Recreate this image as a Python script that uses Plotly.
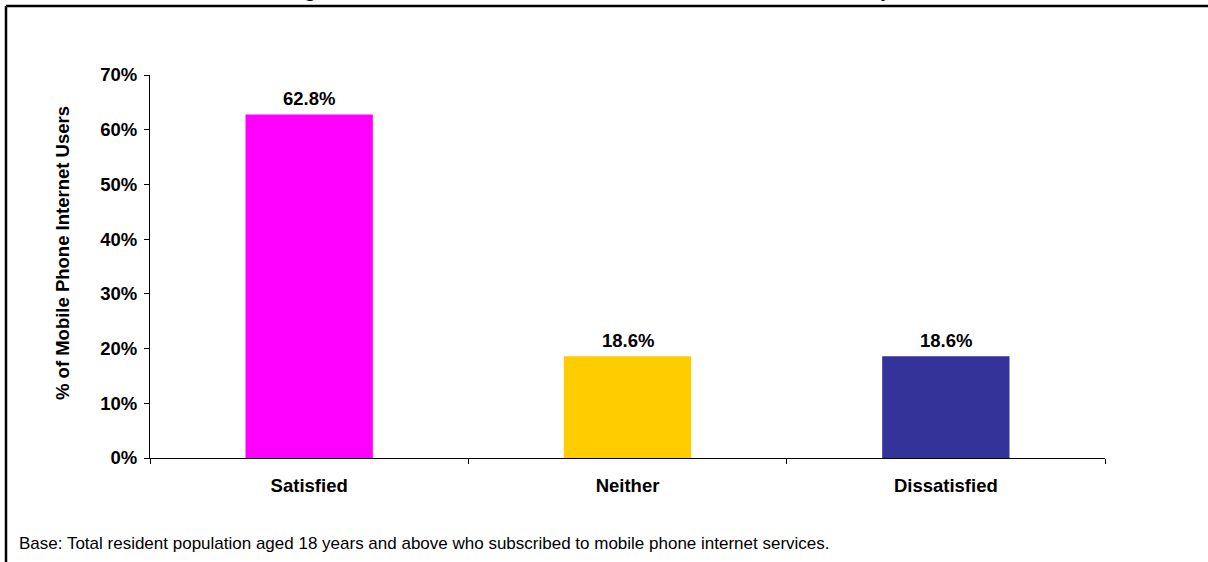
import plotly.graph_objects as go

# Survey results
categories = ["Satisfied", "Neither", "Dissatisfied"]
shares = [62.8, 18.6, 18.6]
bar_colors = ["#FF00FF", "#FFCC00", "#333399"]
y_ticks = [0, 10, 20, 30, 40, 50, 60, 70]
y_tick_labels = [f"{v}%" for v in y_ticks]

title_text = "Figure 10: Overall Satisfaction with Mobile Phone Internet Speed"
y_title = "% of Mobile Phone Internet Users"
footnote = "Base: Total resident population aged 18 years and above who subscribed to mobile phone internet services."

W, H = 1208, 562
ML, MR, MT, MB = 150, 103, 75, 104
PW, PH = W - ML - MR, H - MT - MB
FONT = "Liberation Sans, Arial, sans-serif"
BOLD_SIZE = 18.5


def px_x(px):
    return (px - ML) / PW


def px_y(py):
    return (H - MB - py) / PH


fig = go.Figure()
fig.add_trace(go.Bar(
    x=categories,
    y=shares,
    width=0.4,
    marker=dict(color=bar_colors, line=dict(width=0)),
    hoverinfo="skip",
))

# value labels above each bar
for cat, val in zip(categories, shares):
    fig.add_annotation(
        x=cat, y=val, xref="x", yref="y",
        text=f"{val:.1f}%", showarrow=False,
        yanchor="bottom", yshift=3,
        font=dict(family=FONT, size=BOLD_SIZE, color="#000000", weight="bold"),
    )

# y-axis title
fig.add_annotation(
    x=px_x(62), y=px_y(253), xref="paper", yref="paper",
    text=y_title, textangle=-90, showarrow=False,
    xanchor="center", yanchor="middle",
    font=dict(family=FONT, size=18.5, color="#000000", weight="bold"),
)

# chart heading (sits at the very top edge, mostly above the page)
fig.add_annotation(
    x=px_x(607), y=px_y(-10), xref="paper", yref="paper",
    text=title_text, showarrow=False,
    xanchor="center", yanchor="middle",
    font=dict(family=FONT, size=21, color="#000000", weight="bold"),
)

# footnote
fig.add_annotation(
    x=px_x(17), y=px_y(543), xref="paper", yref="paper",
    text=footnote, showarrow=False,
    xanchor="left", yanchor="middle",
    font=dict(family=FONT, size=17, color="#000000"),
)

# outer frame (top and left edges)
frame = dict(color="#000000", width=2.5)
fig.add_shape(type="line", xref="paper", yref="paper",
              x0=px_x(6), x1=px_x(W + 5), y0=px_y(6), y1=px_y(6), line=frame)
fig.add_shape(type="line", xref="paper", yref="paper",
              x0=px_x(6), x1=px_x(6), y0=px_y(6), y1=px_y(H + 5), line=frame)

fig.update_layout(
    width=W, height=H,
    margin=dict(l=ML, r=MR, t=MT, b=MB, pad=0),
    paper_bgcolor="#FFFFFF",
    plot_bgcolor="#FFFFFF",
    showlegend=False,
    font=dict(family=FONT, color="#000000"),
    bargap=0.6,
)

fig.update_xaxes(
    type="category",
    range=[-0.5, 2.5],
    showgrid=False, zeroline=False,
    showline=True, linecolor="#000000", linewidth=1,
    ticks="outside", tickson="boundaries", ticklen=5, tickcolor="#000000",
    tickfont=dict(family=FONT, size=BOLD_SIZE, color="#000000", weight="bold"),
    ticklabelstandoff=11,
)

fig.update_yaxes(
    range=[0, 70],
    tickvals=y_ticks, ticktext=y_tick_labels,
    showgrid=False, zeroline=False,
    showline=True, linecolor="#000000", linewidth=1,
    ticks="outside", ticklen=5, tickcolor="#000000",
    tickfont=dict(family=FONT, size=BOLD_SIZE, color="#000000", weight="bold"),
    ticklabelstandoff=3,
)

fig.write_html("out.html", config={"displayModeBar": False})
